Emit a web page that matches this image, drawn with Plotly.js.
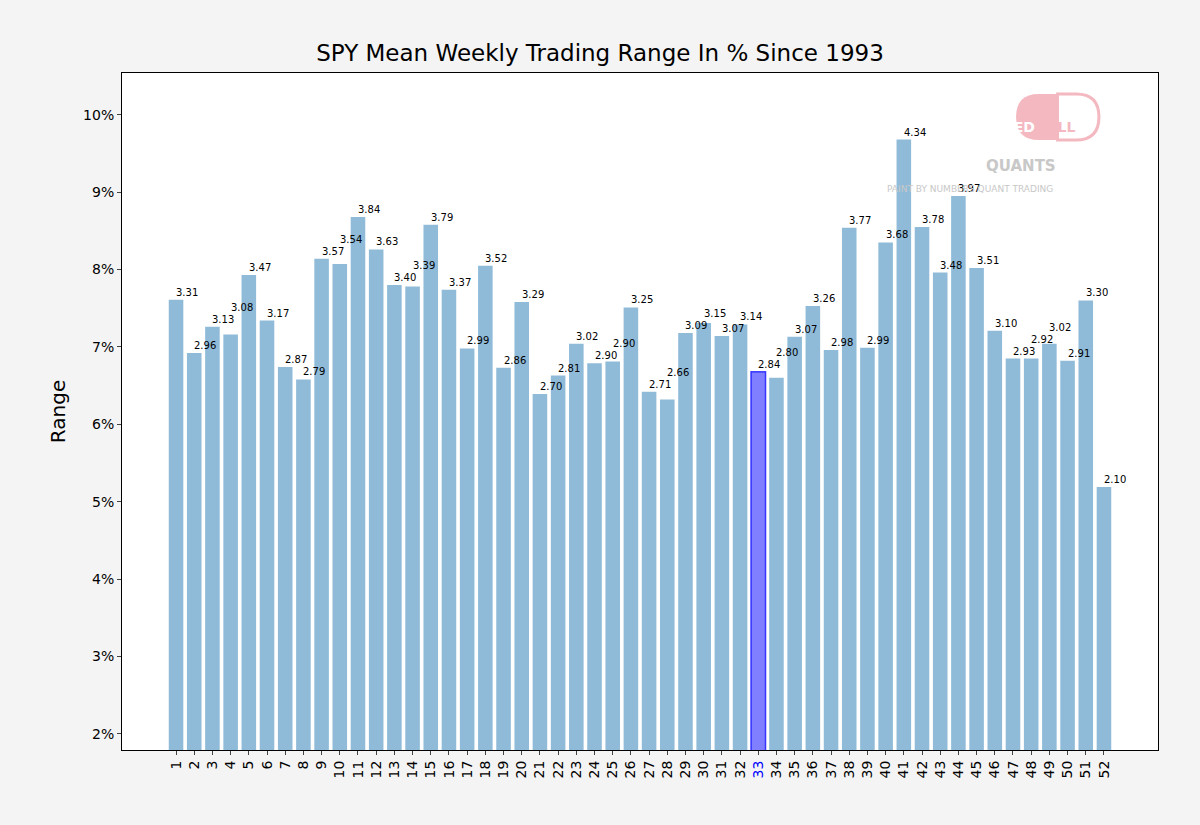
<!DOCTYPE html>
<html><head><meta charset="utf-8">
<script src="https://cdn.plot.ly/plotly-3.0.1.min.js"></script>
<style>body{margin:0;background:#f4f4f4}</style></head>
<body><div id="c" style="width:1200px;height:825px"></div>
<script>
const weeks = Array.from({length:52},(_,i)=>i+1);
const rangePct = [7.61,6.92,7.26,7.16,7.93,7.34,6.74,6.58,8.14,8.07,8.68,8.26,7.80,7.78,8.58,7.74,6.98,8.05,6.73,7.58,6.39,6.63,7.04,6.79,6.81,7.51,6.42,6.32,7.18,7.31,7.14,7.29,6.68,6.60,7.13,7.53,6.96,8.54,6.99,8.35,9.68,8.55,7.96,8.95,8.02,7.21,6.85,6.85,7.04,6.82,7.60,5.19];
const labels = ["3.31","2.96","3.13","3.08","3.47","3.17","2.87","2.79","3.57","3.54","3.84","3.63","3.40","3.39","3.79","3.37","2.99","3.52","2.86","3.29","2.70","2.81","3.02","2.90","2.90","3.25","2.71","2.66","3.09","3.15","3.07","3.14","2.84","2.80","3.07","3.26","2.98","3.77","2.99","3.68","4.34","3.78","3.48","3.97","3.51","3.10","2.93","2.92","3.02","2.91","3.30","2.10"];
const highlightWeek = 33;
const yTickVals = [2,3,4,5,6,7,8,9,10];

const pxPerUnit = 77.4;
const colors = weeks.map(w=>w===highlightWeek?'rgba(0,0,255,0.5)':'rgba(31,119,180,0.5)');
const lines = weeks.map(w=>w===highlightWeek?'rgba(0,0,255,0.7)':'rgba(0,0,0,0)');
// simple overlap avoidance: lift a label if it collides with the previous one
const placed = [];
const annotations = weeks.map((w,i)=>{
  let shift = 0;
  if (i>0) {
    const prevTop = rangePct[i-1]*pxPerUnit + placed[i-1];
    const mine = rangePct[i]*pxPerUnit;
    if (Math.abs(mine - prevTop) < 12) shift = prevTop + 12 - mine;
  }
  placed.push(shift);
  return {x:w,y:rangePct[i],text:labels[i],showarrow:false,xanchor:'left',yanchor:'bottom',xshift:-2,yshift:shift,font:{size:10,color:'#000',family:'DejaVu Sans'}};
});
annotations.push(
 {xref:'paper',yref:'paper',x:0.883,y:0.935,text:'<b>RED</b>',showarrow:false,font:{size:14,color:'#fff',family:'DejaVu Sans'}},
 {xref:'paper',yref:'paper',x:0.922,y:0.935,text:'<b>PILL</b>',showarrow:false,font:{size:14,color:'#f4b8c0',family:'DejaVu Sans'}},
 {xref:'paper',yref:'paper',x:0.903,y:0.879,text:'<b>QUANTS</b>',showarrow:false,font:{size:15,color:'#c8c8c8',family:'DejaVu Sans'}},
 {xref:'paper',yref:'paper',x:0.901,y:0.839,text:'PAINT BY NUMBERS QUANT TRADING',showarrow:false,font:{size:9,color:'#c8c8c8',family:'DejaVu Sans'}}
);
const layout = {
 width:1200,height:825,paper_bgcolor:'#f4f4f4',plot_bgcolor:'#fff',
 margin:{l:122,r:42,t:73,b:75,autoexpand:false},
 title:{text:'SPY Mean Weekly Trading Range In % Since 1993',x:0.5,y:0.936,yanchor:'middle',font:{size:23,family:'DejaVu Sans',color:'#000'}},
 xaxis:{range:[-1.97,54.97],tickvals:weeks,ticktext:weeks.map(w=>w===highlightWeek?'<span style="color:blue">'+w+'</span>':String(w)),tickangle:-90,ticks:'outside',ticklen:4,tickfont:{size:14,family:'DejaVu Sans',color:'#000'},showgrid:false,zeroline:false,showline:true,mirror:true,linecolor:'#000',linewidth:1},
 yaxis:{range:[1.79,10.54],tickvals:yTickVals,ticktext:yTickVals.map(v=>v+'%'),ticks:'outside',ticklen:4,tickfont:{size:14,family:'DejaVu Sans',color:'#000'},showgrid:false,zeroline:false,showline:true,mirror:true,linecolor:'#000',linewidth:1,title:{text:'Range',font:{size:20,family:'DejaVu Sans',color:'#000'},standoff:12}},
 annotations:annotations,
 shapes:[
  {type:'path',xref:'paper',yref:'paper',path:'M 0.903 0.969 L 0.885 0.969 Q 0.863 0.969 0.863 0.935 Q 0.863 0.901 0.885 0.901 L 0.903 0.901 Z',fillcolor:'#f4b8c0',line:{width:0}},
  {type:'path',xref:'paper',yref:'paper',path:'M 0.903 0.969 L 0.921 0.969 Q 0.943 0.969 0.943 0.935 Q 0.943 0.901 0.921 0.901 L 0.903 0.901 Z',fillcolor:'#fff',line:{color:'#f4b8c0',width:3}}
 ],
 showlegend:false
};
Plotly.newPlot('c',[{type:'bar',x:weeks,y:rangePct,marker:{color:colors,line:{color:lines,width:1.5}},width:0.8,hoverinfo:'none'}],layout,{displayModeBar:false});
</script></body></html>
